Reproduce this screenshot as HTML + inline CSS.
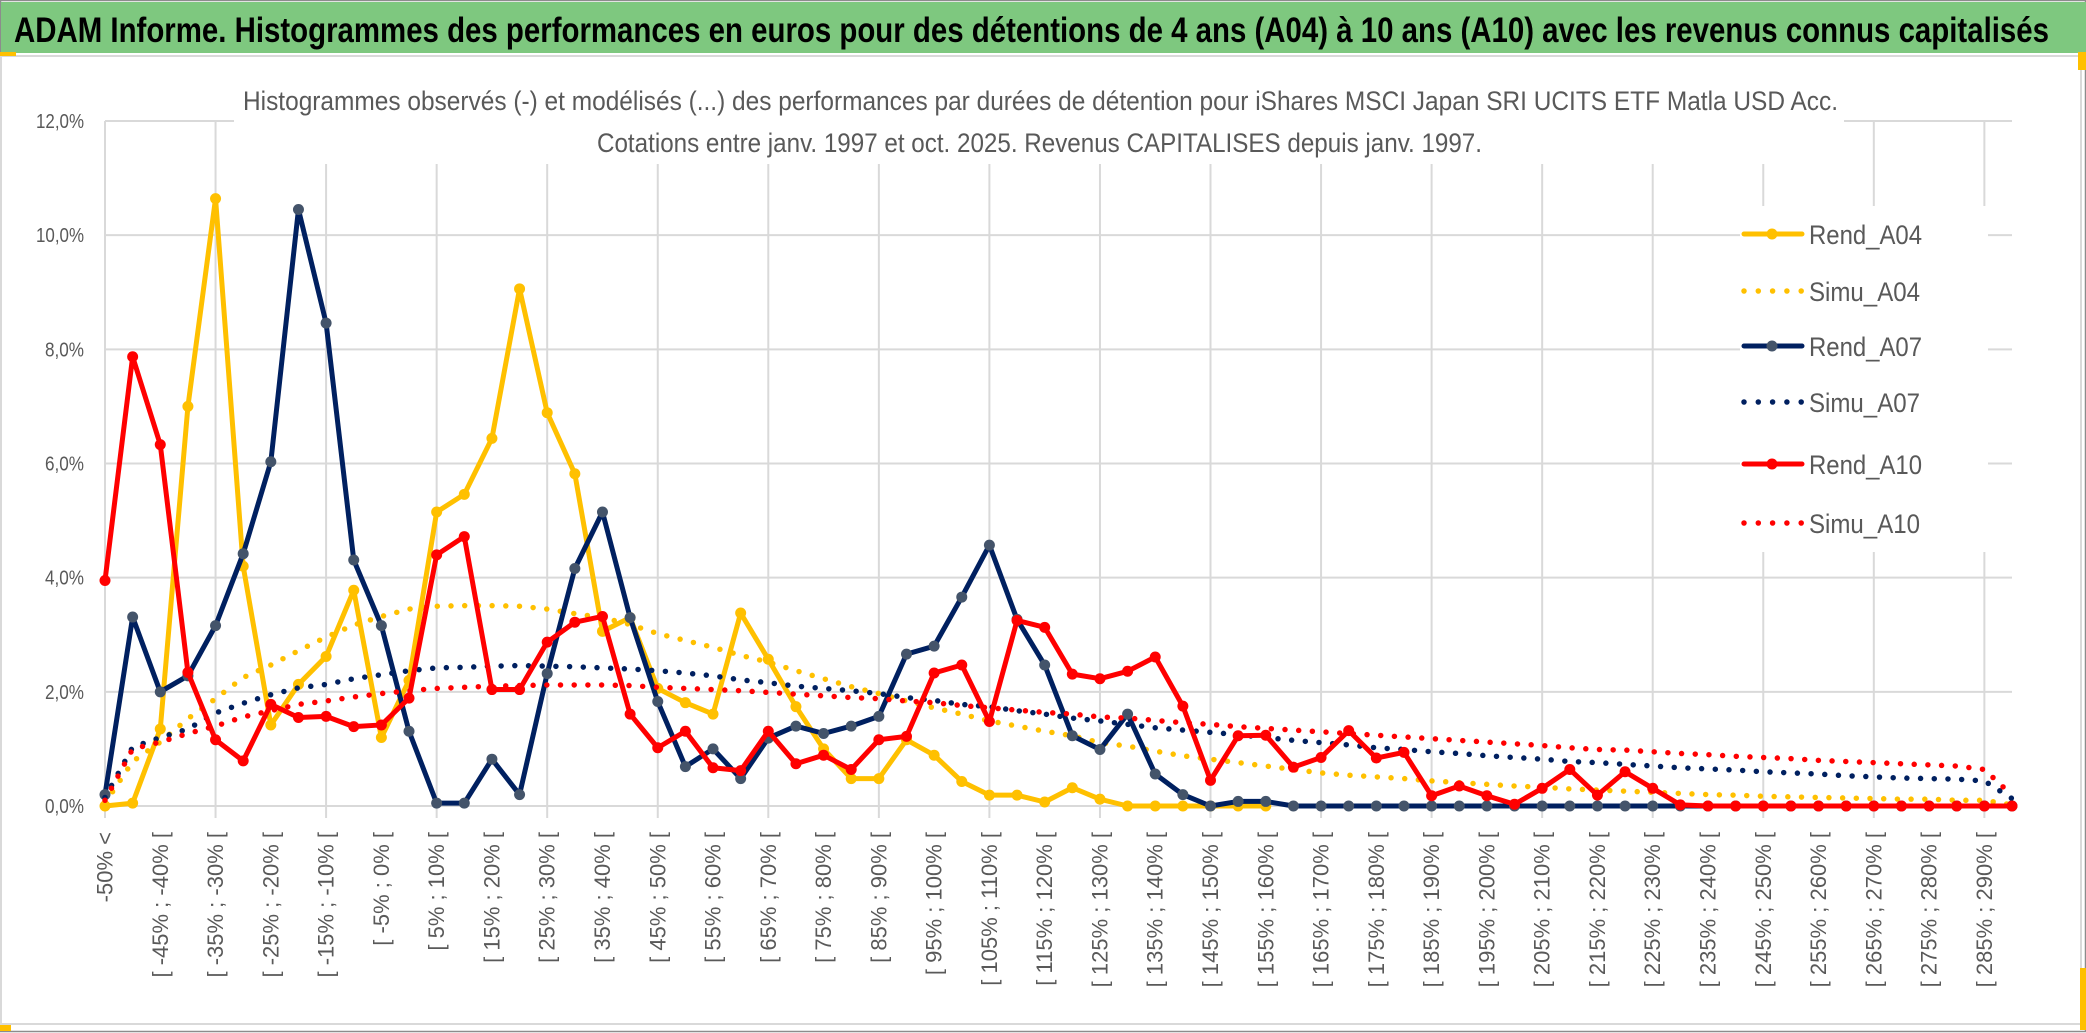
<!DOCTYPE html>
<html><head><meta charset="utf-8">
<style>
html,body{margin:0;padding:0;background:#fff;}
svg{display:block;}
text{font-family:"Liberation Sans",sans-serif;}
</style></head>
<body>
<svg id="chart" width="2086" height="1033" viewBox="0 0 2086 1033" xmlns="http://www.w3.org/2000/svg">
  <rect x="0" y="0" width="2086" height="1033" fill="#ffffff"/>
  <rect x="0.5" y="0.5" width="2085" height="1031" fill="none" stroke="#8c8c8c" stroke-width="1.5"/>
  <rect x="1" y="2" width="2085" height="51" fill="#7ec87f"/>
  <text x="14" y="42" font-size="35" font-weight="bold" fill="#000" textLength="2035" lengthAdjust="spacingAndGlyphs">ADAM Informe. Histogrammes des performances en euros pour des détentions de 4 ans (A04) à 10 ans (A10) avec les revenus connus capitalisés</text>
  <rect x="1" y="56" width="2080" height="968" fill="none" stroke="#d9d9d9" stroke-width="2"/>
  <rect x="0" y="52" width="16" height="4" fill="#ffc000"/>
  <rect x="2078" y="52" width="8" height="18" fill="#ffc000"/>
  <rect x="0" y="1025" width="11" height="6" fill="#ffc000"/>
  <rect x="2080" y="968" width="6" height="62" fill="#ffc000"/>
  <g id="grid"></g>
  <rect x="234" y="78" width="1610" height="86" fill="#ffffff"/>
  <text x="243" y="110" font-size="27" fill="#595959" textLength="1595" lengthAdjust="spacingAndGlyphs">Histogrammes observés (-) et modélisés (...) des performances par durées de détention pour iShares MSCI Japan SRI UCITS ETF Matla USD Acc.</text>
  <text x="597" y="152" font-size="27" fill="#595959" textLength="885" lengthAdjust="spacingAndGlyphs">Cotations entre janv. 1997 et oct. 2025. Revenus CAPITALISES depuis janv. 1997.</text>
  <rect x="1740" y="206" width="248" height="346" fill="#ffffff"/>
  <g id="yaxis"></g>
  <g id="xaxis"></g>
  <g id="series"></g>
  <g id="legend"></g>
</svg>
<script>
// ---- data ----
const categories = ["-50% <"];
for (let k = 1; k < 70; k++) { const a = -55 + 5 * k; categories.push("[ " + a + "% ; " + (a + 5) + "% ["); }
const yTicks = [0, 2, 4, 6, 8, 10, 12];
const yTickLabels = ["0,0%", "2,0%", "4,0%", "6,0%", "8,0%", "10,0%", "12,0%"];
const seriesNames = ["Rend_A04", "Simu_A04", "Rend_A07", "Simu_A07", "Rend_A10", "Simu_A10"];
const rendA04 = [0,0.05,1.35,7.0,10.64,4.2,1.42,2.13,2.62,3.78,
 1.2,2.2,5.15,5.46,6.44,9.06,6.89,5.82,3.06,3.3,
 2.06,1.81,1.61,3.38,2.57,1.74,1.0,0.48,0.48,1.16,
 0.89,0.43,0.19,0.19,0.07,0.32,0.12,0,0,0,
 0,0,0,null,null,null,null,null,null,null,
 null,null,null,null,null,null,null,null,null,null,
 null,null,null,null,null,null,null,null,null,null];
const simuA04 = [0.05,0.78,1.12,1.53,1.88,2.25,2.47,2.72,2.96,3.17,
 3.32,3.45,3.5,3.51,3.51,3.5,3.45,3.37,3.3,3.18,
 3.02,2.9,2.78,2.64,2.52,2.37,2.23,2.09,1.97,1.84,
 1.72,1.61,1.49,1.4,1.31,1.23,1.11,1.05,0.96,0.88,
 0.82,0.76,0.7,0.64,0.58,0.54,0.51,0.48,0.44,0.41,
 0.38,0.35,0.33,0.3,0.28,0.26,0.24,0.22,0.2,0.19,
 0.17,0.16,0.15,0.14,0.13,0.12,0.12,0.1,0.1,0.02];
const rendA07 = [0.2,3.31,2.0,2.28,3.16,4.42,6.03,10.45,8.46,4.31,
 3.16,1.31,0.05,0.05,0.82,0.2,2.32,4.16,5.15,3.3,
 1.83,0.69,1.0,0.48,1.19,1.4,1.27,1.4,1.57,2.66,
 2.8,3.66,4.57,3.27,2.47,1.23,0.99,1.61,0.56,0.2,
 0,0.08,0.08,0,0,0,0,0,0,0,
 0,0,0,0,0,0,0,0,0,0,
 0,0,0,0,0,0,0,0,0,0];
const simuA07 = [0.15,1.03,1.2,1.35,1.63,1.8,1.95,2.07,2.13,2.23,
 2.3,2.37,2.42,2.43,2.45,2.46,2.45,2.44,2.42,2.4,
 2.37,2.33,2.28,2.21,2.16,2.1,2.06,2.02,1.97,1.9,
 1.85,1.78,1.74,1.67,1.61,1.54,1.49,1.43,1.37,1.33,
 1.29,1.25,1.2,1.15,1.11,1.07,1.02,0.99,0.95,0.92,
 0.88,0.85,0.82,0.78,0.76,0.73,0.7,0.67,0.65,0.63,
 0.6,0.58,0.56,0.53,0.51,0.49,0.48,0.47,0.44,0.13];
const rendA10 = [3.95,7.87,6.33,2.34,1.16,0.79,1.78,1.55,1.57,1.39,
 1.42,1.89,4.4,4.72,2.04,2.04,2.87,3.22,3.32,1.61,
 1.02,1.31,0.67,0.62,1.31,0.74,0.89,0.64,1.16,1.22,
 2.33,2.47,1.48,3.25,3.13,2.31,2.23,2.36,2.61,1.75,
 0.45,1.23,1.24,0.68,0.85,1.32,0.84,0.94,0.18,0.35,
 0.18,0.03,0.31,0.64,0.19,0.6,0.31,0.02,0,0,
 0,0,0,0,0,0,0,0,0,0];
const simuA10 = [0.1,1.0,1.12,1.27,1.4,1.56,1.67,1.78,1.84,1.91,
 1.97,2.02,2.06,2.08,2.1,2.11,2.12,2.12,2.12,2.11,
 2.08,2.06,2.04,2.02,1.99,1.96,1.93,1.9,1.88,1.84,
 1.81,1.76,1.72,1.68,1.64,1.61,1.56,1.54,1.5,1.46,
 1.43,1.39,1.36,1.33,1.3,1.27,1.24,1.21,1.18,1.15,
 1.12,1.09,1.06,1.02,0.99,0.98,0.95,0.92,0.9,0.87,
 0.85,0.83,0.8,0.78,0.76,0.74,0.72,0.7,0.64,0.19];

// ---- layout ----
const NS = "http://www.w3.org/2000/svg";
const X0 = 105, X1 = 2012, Y0 = 806, Y12 = 121;
const n = categories.length;
function xs(i) { return X0 + (X1 - X0) * i / (n - 1); }
function ys(v) { return Y0 - (Y0 - Y12) * v / 12; }
function mk(tag, attrs, parent) {
  const e = document.createElementNS(NS, tag);
  for (const k in attrs) e.setAttribute(k, attrs[k]);
  parent.appendChild(e);
  return e;
}
const grid = document.getElementById("grid");
const yaxis = document.getElementById("yaxis");
const xaxis = document.getElementById("xaxis");
const seriesG = document.getElementById("series");
const legend = document.getElementById("legend");

yTicks.forEach((t, k) => {
  const l = mk("line", {x1: X0, x2: X1, y1: ys(t), y2: ys(t), stroke: "#d9d9d9", "stroke-width": 2}, grid);
  
  
  const tx = mk("text", {x: 84, y: ys(t) + 7, "text-anchor": "end", "font-size": 20, fill: "#595959", textLength: yTickLabels[k].length > 4 ? 48 : 39, lengthAdjust: "spacingAndGlyphs"}, yaxis);
  tx.textContent = yTickLabels[k];
  
  
});
for (let i = 0; i < n; i += 4) {
  const l = mk("line", {x1: xs(i), x2: xs(i), y1: Y12, y2: Y0 + 12, stroke: "#d9d9d9", "stroke-width": 2}, grid);
  
  
}
for (let i = 0; i < n; i += 2) {
  if (i > 68) break;
  const x = xs(i), y = 832;
  const tx = mk("text", {x: x, y: y, transform: "rotate(-90 " + x + " " + y + ")", "text-anchor": "end", "dominant-baseline": "central", "font-size": 22, fill: "#595959", "font-family": "DejaVu Sans, sans-serif"}, xaxis);
  tx.textContent = categories[i];
  
  
}

function pathFor(vals) {
  let d = "", started = false;
  vals.forEach((v, i) => {
    if (v === null || v === undefined) { started = false; return; }
    d += (started ? " L" : " M") + xs(i).toFixed(2) + " " + ys(v).toFixed(2);
    started = true;
  });
  return d;
}
const styles = [
  {vals: rendA04, color: "#ffc000", marker: "#ffc000", solid: true, name: "rend-a04"},
  {vals: simuA04, color: "#ffc000", solid: false, name: "simu-a04"},
  {vals: rendA07, color: "#002060", marker: "#44546a", solid: true, name: "rend-a07"},
  {vals: simuA07, color: "#002060", solid: false, name: "simu-a07"},
  {vals: rendA10, color: "#ff0000", marker: "#ff0000", solid: true, name: "rend-a10"},
  {vals: simuA10, color: "#ff0000", solid: false, name: "simu-a10"}
];
styles.forEach(s => {
  const g = mk("g", {}, seriesG);
  
  
  if (s.solid) {
    const p = mk("path", {d: pathFor(s.vals), fill: "none", stroke: s.color, "stroke-width": 5, "stroke-linejoin": "round", "stroke-linecap": "round"}, g);
    
    
    s.vals.forEach((v, i) => {
      if (v === null) return;
      const c = mk("circle", {cx: xs(i), cy: ys(v), r: 5.5, fill: s.marker}, g);
      
      
    });
  } else {
    const p = mk("path", {d: pathFor(s.vals), fill: "none", stroke: s.color, "stroke-width": 5.5, "stroke-linecap": "round", "stroke-dasharray": "0 13.7"}, g);
    
    
  }
});

const legendRows = [234, 291, 346, 402, 464, 523];
styles.forEach((s, k) => {
  const y = legendRows[k];
  const g = mk("g", {}, legend);
  
  
  if (s.solid) {
    const l = mk("line", {x1: 1744, x2: 1802, y1: y, y2: y, stroke: s.color, "stroke-width": 5, "stroke-linecap": "round"}, g);
    
    
    const c = mk("circle", {cx: 1772, cy: y, r: 5.5, fill: s.marker}, g);
    
    
  } else {
    const l = mk("line", {x1: 1744, x2: 1802, y1: y, y2: y, stroke: s.color, "stroke-width": 5.5, "stroke-linecap": "round", "stroke-dasharray": "0 14.3"}, g);
    
    
  }
  const t = mk("text", {x: 1809, y: y + 10, "font-size": 27, fill: "#595959", textLength: s.solid ? 113 : 111, lengthAdjust: "spacingAndGlyphs"}, g);
  t.textContent = seriesNames[k];
  
  
});
</script>
</body></html>
